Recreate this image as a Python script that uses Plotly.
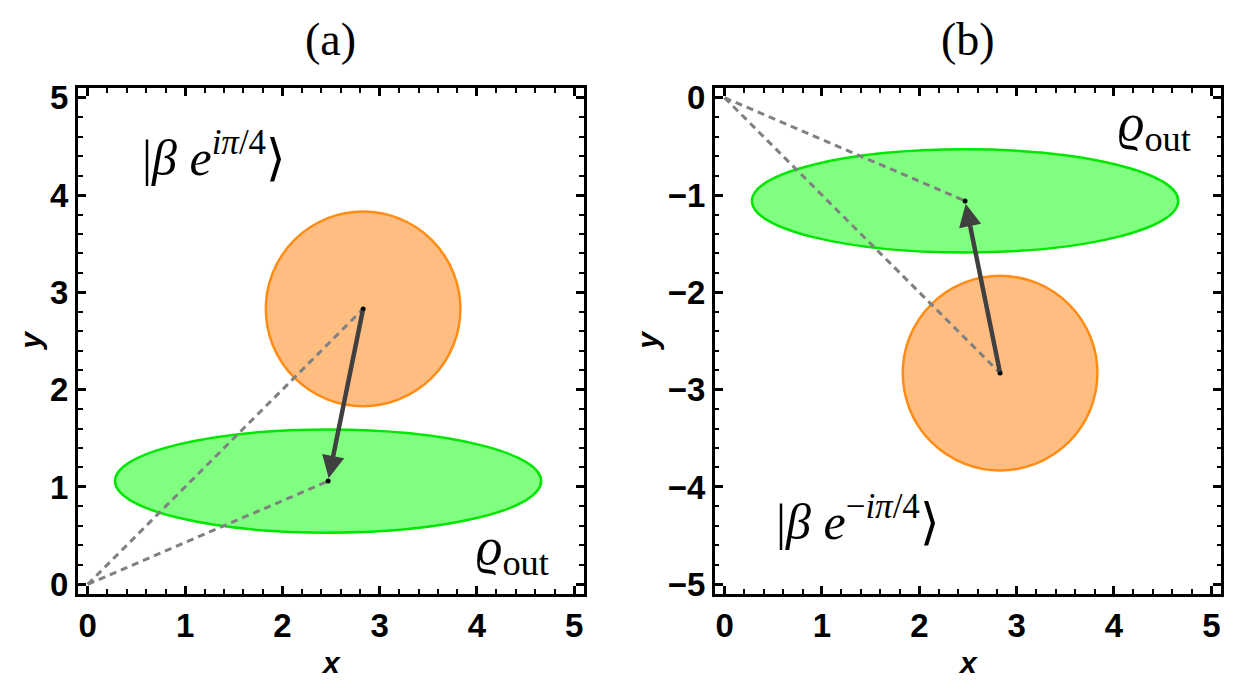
import plotly.graph_objects as go

# ---- data ----
circle_center_a = [2.83, 2.83]
circle_center_b = [2.83, -2.83]
circle_radius = [1.0, 1.0]
ellipse_center_a = [2.47, 1.06]
ellipse_center_b = [2.47, -1.06]
ellipse_semi = [2.19, 0.53]
origin = [0.0, 0.0]
tick_vals = [0, 1, 2, 3, 4, 5]
ticks_b = [0, -1, -2, -3, -4, -5]
tick_text_a = ["0", "1", "2", "3", "4", "5"]
tick_text_b = ["0", "−1", "−2", "−3", "−4", "−5"]
panel_titles = ["(a)", "(b)"]
axis_titles = ["x", "y"]
ket_labels = ["|<i>β e</i><sup><i>iπ</i>/4</sup>⟩", "|<i>β e</i><sup>−<i>iπ</i>/4</sup>⟩"]
rho_label = "<i>ϱ</i><sub>out</sub>"
ket_pos = [[1.3, 4.42], [1.37, -4.32]]
rho_pos = [[4.37, 0.35], [4.42, -0.30]]

ORANGE_FILL = "rgba(255,180,112,0.88)"
ORANGE_LINE = "rgb(255,140,20)"
GREEN_FILL = "rgba(112,255,112,0.88)"
GREEN_LINE = "rgb(0,230,0)"

fig = go.Figure()
shapes = []
annotations = []

panels = [
    ("x", "y", circle_center_a, ellipse_center_a, ket_pos[0], rho_pos[0], ket_labels[0]),
    ("x2", "y2", circle_center_b, ellipse_center_b, ket_pos[1], rho_pos[1], ket_labels[1]),
]

for xr, yr, cc, ec, kp, rp, kl in panels:
    shapes.append(dict(type="circle", xref=xr, yref=yr,
                       x0=cc[0] - circle_radius[0], x1=cc[0] + circle_radius[0],
                       y0=cc[1] - circle_radius[1], y1=cc[1] + circle_radius[1],
                       fillcolor=ORANGE_FILL, line=dict(color=ORANGE_LINE, width=2.5),
                       layer="below"))
    shapes.append(dict(type="circle", xref=xr, yref=yr,
                       x0=ec[0] - ellipse_semi[0], x1=ec[0] + ellipse_semi[0],
                       y0=ec[1] - ellipse_semi[1], y1=ec[1] + ellipse_semi[1],
                       fillcolor=GREEN_FILL, line=dict(color=GREEN_LINE, width=2.5),
                       layer="below"))
    for pt in (cc, ec):
        fig.add_trace(go.Scatter(x=[origin[0], pt[0]], y=[origin[1], pt[1]], mode="lines",
                                 line=dict(color="rgb(128,128,128)", width=3, dash="7px,5px"),
                                 xaxis=xr, yaxis=yr, showlegend=False, hoverinfo="skip"))
    annotations.append(dict(x=ec[0], y=ec[1], ax=cc[0], ay=cc[1], xref=xr, yref=yr,
                            axref=xr, ayref=yr, text="", showarrow=True,
                            arrowhead=2, arrowsize=1.0, arrowwidth=4.5,
                            arrowcolor="rgb(64,64,64)", standoff=3))
    fig.add_trace(go.Scatter(x=[cc[0], ec[0]], y=[cc[1], ec[1]], mode="markers",
                             marker=dict(color="black", size=5),
                             xaxis=xr, yaxis=yr, showlegend=False, hoverinfo="skip"))
    annotations.append(dict(x=kp[0], y=kp[1], xref=xr, yref=yr, text=kl, showarrow=False,
                            font=dict(family="Liberation Serif", size=50, color="black")))
    annotations.append(dict(x=rp[0], y=rp[1], xref=xr, yref=yr, text=rho_label, showarrow=False,
                            font=dict(family="Liberation Serif", size=52, color="black")))

xdom = [[0.063, 0.4713], [0.577, 0.9855]]
ydom = [0.1478, 0.8737]
ytitle_x = [0.024, 0.522]
for i, t in enumerate(panel_titles):
    annotations.append(dict(x=(xdom[i][0] + xdom[i][1]) / 2, y=0.943, xref="paper", yref="paper",
                            xanchor="center", yanchor="middle",
                            text=t, showarrow=False,
                            font=dict(family="Liberation Serif", size=46, color="black")))
    # x axis title
    annotations.append(dict(x=(xdom[i][0] + xdom[i][1]) / 2, y=0.05, xref="paper", yref="paper",
                            xanchor="center", yanchor="middle", showarrow=False,
                            text="<b><i>" + axis_titles[0] + "</i></b>",
                            font=dict(family="Liberation Sans", size=30, color="black")))
    # y axis title
    annotations.append(dict(x=ytitle_x[i], y=(ydom[0] + ydom[1]) / 2, xref="paper", yref="paper",
                            xanchor="center", yanchor="middle", showarrow=False, textangle=-90,
                            text="<b><i>" + axis_titles[1] + "</i></b>",
                            font=dict(family="Liberation Sans", size=30, color="black")))

tick_font = dict(family="Liberation Sans", size=33, color="black")

def make_axis(domain, rng, tv, tt, anchor):
    return dict(domain=domain, range=rng, tickmode="array", tickvals=tv,
                ticktext=["<b>" + s + "</b>" for s in tt], anchor=anchor, automargin=False,
                showgrid=False, zeroline=False, showline=True, linecolor="black",
                linewidth=3, mirror="allticks", ticks="inside", ticklen=8, tickwidth=2.5,
                tickcolor="black",
                minor=dict(ticks="inside", ticklen=4.5, tickwidth=2, tickcolor="black", dtick=0.2),
                tickfont=tick_font)

fig.update_layout(
    width=1239, height=697, margin=dict(l=0, r=0, t=0, b=0),
    plot_bgcolor="white", paper_bgcolor="white",
    shapes=shapes, annotations=annotations,
    xaxis=make_axis(xdom[0], [-0.1, 5.1], tick_vals, tick_text_a, "y"),
    yaxis=make_axis(ydom, [-0.1, 5.1], tick_vals, tick_text_a, "x"),
    xaxis2=make_axis(xdom[1], [-0.1, 5.1], tick_vals, tick_text_a, "y2"),
    yaxis2=make_axis(ydom, [-5.1, 0.1], ticks_b, tick_text_b, "x2"),
)

fig.write_html("out.html")
